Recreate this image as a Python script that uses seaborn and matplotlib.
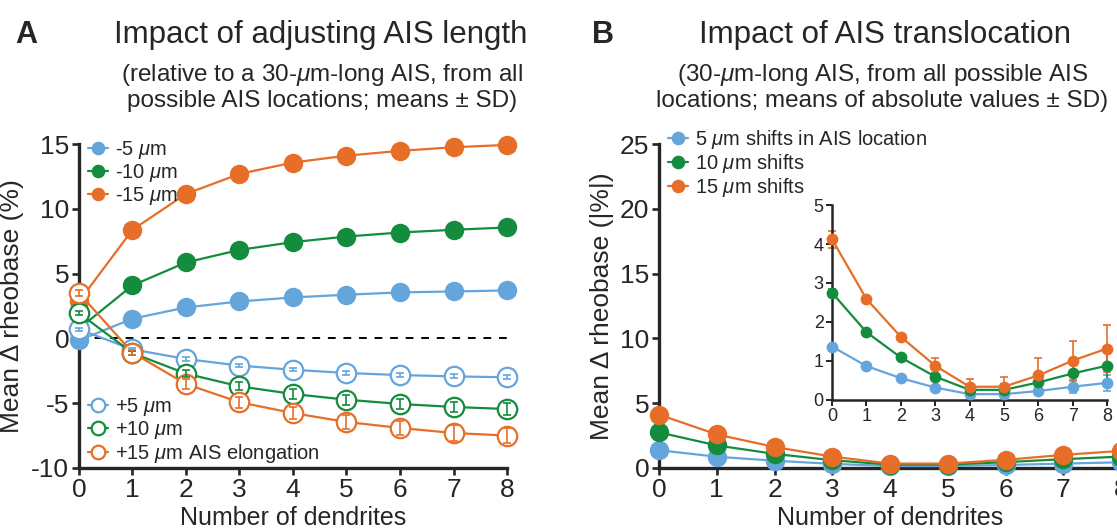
import numpy as np
import pandas as pd
import matplotlib
matplotlib.use('Agg')
import matplotlib.pyplot as plt
import seaborn as sns

# data
dendrites = [0, 1, 2, 3, 4, 5, 6, 7, 8]

# panel A: shortening (filled) and elongation (open), mean delta rheobase (%)
short_5 = [-0.15, 1.52, 2.39, 2.85, 3.16, 3.37, 3.55, 3.62, 3.70]
short_10 = [0.75, 4.09, 5.86, 6.83, 7.43, 7.86, 8.17, 8.38, 8.56]
short_15 = [2.85, 8.38, 11.15, 12.69, 13.57, 14.10, 14.47, 14.75, 14.93]
long_5 = [0.70, -0.85, -1.59, -2.10, -2.42, -2.67, -2.83, -2.93, -3.00]
long_10 = [1.95, -1.13, -2.72, -3.70, -4.29, -4.73, -5.06, -5.29, -5.45]
long_15 = [3.50, -1.10, -3.52, -4.93, -5.76, -6.45, -6.91, -7.30, -7.50]
long_5_sd = [0.10, 0.10, 0.12, 0.12, 0.13, 0.14, 0.14, 0.15, 0.15]
long_10_sd = [0.15, 0.15, 0.25, 0.30, 0.35, 0.38, 0.40, 0.42, 0.45]
long_15_sd = [0.20, 0.20, 0.35, 0.42, 0.48, 0.52, 0.55, 0.58, 0.60]

# panel B: |delta rheobase| (%) for AIS shifts
shift_5 = [1.37, 0.87, 0.56, 0.32, 0.15, 0.15, 0.23, 0.34, 0.44]
shift_10 = [2.75, 1.74, 1.09, 0.60, 0.26, 0.26, 0.45, 0.68, 0.88]
shift_15 = [4.12, 2.59, 1.62, 0.88, 0.34, 0.34, 0.63, 1.01, 1.32]
shift_5_sd = [0.05, 0.04, 0.04, 0.05, 0.05, 0.06, 0.10, 0.15, 0.20]
shift_10_sd = [0.10, 0.06, 0.06, 0.10, 0.12, 0.14, 0.25, 0.35, 0.45]
shift_15_sd = [0.22, 0.08, 0.08, 0.20, 0.20, 0.24, 0.45, 0.50, 0.60]

blue = '#64a5dc'
green = '#138c3e'
orange = '#e66e28'

sns.set_style('ticks')
plt.rcParams['font.family'] = ['Liberation Sans', 'DejaVu Sans']
plt.rcParams['mathtext.fontset'] = 'custom'
plt.rcParams['mathtext.it'] = 'Liberation Sans:italic'
plt.rcParams['mathtext.rm'] = 'Liberation Sans'
plt.rcParams['axes.unicode_minus'] = False

fig = plt.figure(figsize=(11.17, 5.30), dpi=100)
axA = fig.add_axes([0.0707, 0.1170, 0.3832, 0.6113])
axB = fig.add_axes([0.5900, 0.1170, 0.4136, 0.6113])
axI = fig.add_axes([0.7449, 0.2453, 0.2462, 0.3679])


def style_axis(ax, lw=2.4, fs=19, tl=5):
    sns.despine(ax=ax)
    for s in ['left', 'bottom']:
        ax.spines[s].set_linewidth(lw)
    ax.tick_params(width=lw * 0.8, length=tl, labelsize=fs, pad=2)
    ax.set_facecolor('none')


def draw(ax, y, color, label, open_=False, ms=14, sd=None, err_top=True):
    df = pd.DataFrame({'x': dendrites, 'y': y})
    sns.lineplot(data=df, x='x', y='y', ax=ax, color=color, lw=1.6,
                 marker='o', markersize=ms,
                 markerfacecolor='white' if open_ else color,
                 markeredgecolor=color, markeredgewidth=1.6 if open_ else 0,
                 label=label, clip_on=False, zorder=3)
    if sd is not None:
        ax.errorbar(dendrites, y, yerr=sd, fmt='none', ecolor=color,
                    elinewidth=1.2, capsize=3, capthick=1.2, clip_on=False,
                    zorder=4 if err_top else 2)


# ---- panel A
draw(axA, short_5, blue, '-5 $\\mu$m')
draw(axA, short_10, green, '-10 $\\mu$m')
draw(axA, short_15, orange, '-15 $\\mu$m')
draw(axA, long_5, blue, '+5 $\\mu$m', open_=True, sd=long_5_sd)
draw(axA, long_10, green, '+10 $\\mu$m', open_=True, sd=long_10_sd)
draw(axA, long_15, orange, '+15 $\\mu$m AIS elongation', open_=True, sd=long_15_sd)
axA.axhline(0, color='black', ls=(0, (4, 4)), lw=1.4, zorder=1)
axA.set_xlim(0, 8)
axA.set_ylim(-10, 15)
axA.set_xticks(dendrites)
axA.set_yticks([-10, -5, 0, 5, 10, 15])
style_axis(axA)
axA.set_xlabel('Number of dendrites', fontsize=18, labelpad=3)
axA.set_ylabel('Mean Δ rheobase (%)', fontsize=19)
axA.yaxis.set_label_coords(-0.128, 0.5)

h, l = axA.get_legend_handles_labels()
legkw = dict(frameon=False, fontsize=14.5, handlelength=1.0, handletextpad=0.35,
             labelspacing=0.05, borderpad=0, borderaxespad=0, markerscale=0.7)
leg1 = axA.legend(h[:3], l[:3], loc='upper left', bbox_to_anchor=(0.02, 1.015), **legkw)
axA.add_artist(leg1)
axA.legend(h[3:], l[3:], loc='lower left', bbox_to_anchor=(0.02, 0.01), **legkw)

# ---- panel B
for ax, ms in [(axB, 14), (axI, 8.5)]:
    draw(ax, shift_5, blue, '5 $\\mu$m shifts in AIS location', ms=ms,
         sd=shift_5_sd, err_top=False)
    draw(ax, shift_10, green, '10 $\\mu$m shifts', ms=ms,
         sd=shift_10_sd, err_top=False)
    draw(ax, shift_15, orange, '15 $\\mu$m shifts', ms=ms,
         sd=shift_15_sd, err_top=False)
    ax.set_xlim(0, 8)
    ax.set_xticks(dendrites)

axB.set_ylim(0, 25)
axB.set_yticks([0, 5, 10, 15, 20, 25])
style_axis(axB)
axB.set_xlabel('Number of dendrites', fontsize=18, labelpad=3)
axB.set_ylabel('Mean Δ rheobase (|%|)', fontsize=19)
axB.yaxis.set_label_coords(-0.098, 0.5)
axB.legend(loc='upper left', bbox_to_anchor=(0.02, 1.05), **legkw)

axI.set_ylim(0, 5)
axI.set_yticks([0, 1, 2, 3, 4, 5])
style_axis(axI, lw=1.8, fs=13, tl=4)
axI.set_xlabel('')
axI.set_ylabel('')
axI.get_legend().remove()

# ---- titles
fig.text(0.014, 0.962, 'A', fontsize=22, fontweight='bold', va='top')
fig.text(0.530, 0.962, 'B', fontsize=22, fontweight='bold', va='top')
fig.text(0.287, 0.934, 'Impact of adjusting AIS length', fontsize=22.5,
         ha='center', va='center')
fig.text(0.288, 0.836,
         '(relative to a 30-$\\mu$m-long AIS, from all\npossible AIS locations; means ± SD)',
         fontsize=17.5, ha='center', va='center', linespacing=1.1)
fig.text(0.792, 0.934, 'Impact of AIS translocation', fontsize=22.5,
         ha='center', va='center')
fig.text(0.790, 0.836,
         '(30-$\\mu$m-long AIS, from all possible AIS\nlocations; means of absolute values ± SD)',
         fontsize=17.5, ha='center', va='center', linespacing=1.1)

fig.savefig('out.png', dpi=100)
